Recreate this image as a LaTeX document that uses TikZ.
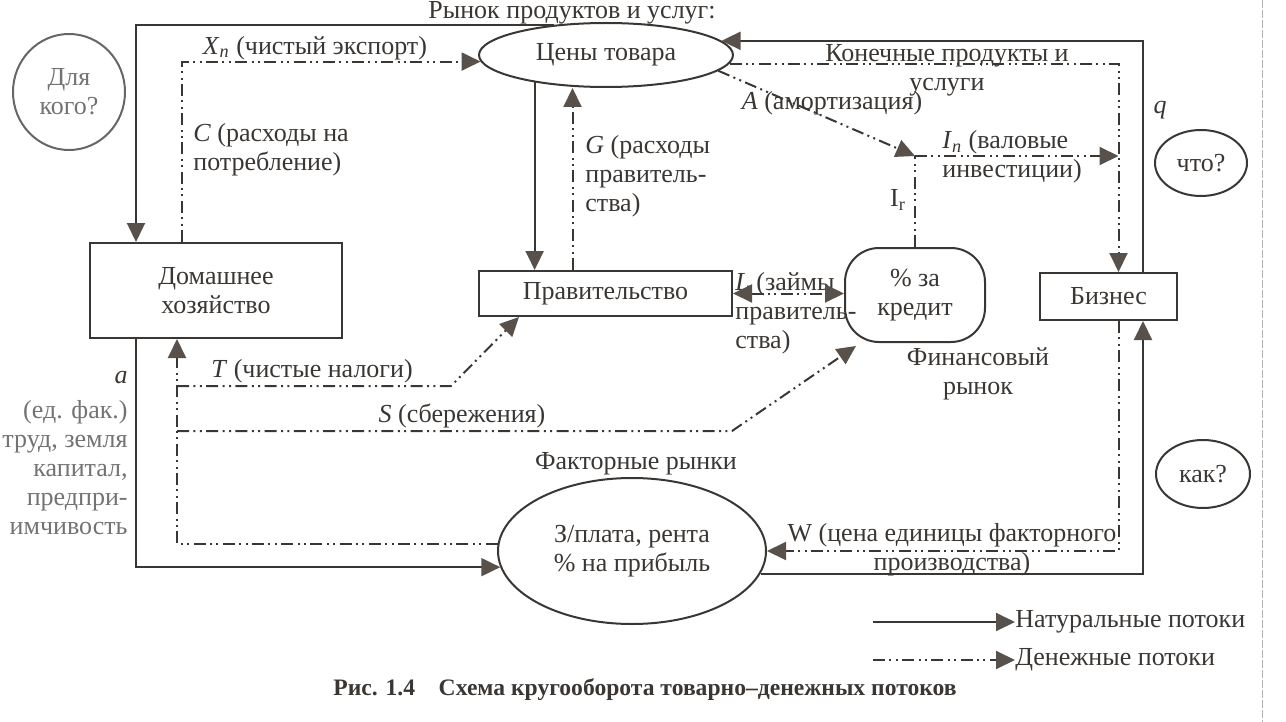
\documentclass[tikz,border=0pt]{standalone}
\usepackage{fontspec}
\setmainfont{Liberation Serif}
\usetikzlibrary{arrows.meta,shapes.geometric,calc}
\definecolor{ink}{HTML}{3A3633}
\definecolor{tipc}{HTML}{58514B}
\begin{document}
\begin{tikzpicture}[x=0.5pt,y=-0.5pt,
  font=\fontsize{13}{14.5}\selectfont, text=ink,
  every node/.style={inner sep=0pt},
  natural/.style={draw=ink, line width=1pt},
  money/.style={draw=ink, line width=1pt, dash pattern=on 6pt off 2.2pt on 1pt off 2.2pt on 1pt off 2.2pt},
  ar/.style={-{Triangle[length=9.5pt,width=9pt,color=tipc]}},
  artwo/.style={{Triangle[length=9.5pt,width=9pt,color=tipc]}-{Triangle[length=9.5pt,width=9pt,color=tipc]}},
  box/.style={draw=ink, line width=1pt, align=center},
  oval/.style={ellipse, draw=ink, line width=1pt, align=center}]
\useasboundingbox (0,0) rectangle (1286,722);

% page edge artefact
\draw[black!30, line width=0.5pt, dash pattern=on 4pt off 1pt] (1262,0) -- (1262,722);

% title
\node[anchor=base] (title) at (572,19) {Рынок продуктов и услуг:};

% main nodes
\node[oval, minimum width=127pt, minimum height=32pt] (ce) at (606,55) {Цены товара};
\node[box, minimum width=126pt, minimum height=47.5pt] (hh) at (216,290.5) {Домашнее\\хозяйство};
\node[box, minimum width=126.5pt, minimum height=22.5pt] (gov) at (605.5,293.5) {Правительство};
\node[box, minimum width=68.5pt, minimum height=23.5pt] (biz) at (1108.5,296.5) {Бизнес};
\node[draw=ink, line width=1pt, rounded corners=17pt, minimum width=70pt, minimum height=47pt, align=center] (kr) at (915,295) {\% за\\кредит};
\node[oval, minimum width=134pt, minimum height=73pt] (fm) at (632,551) {З/плата, рента\\\% на прибыль};
\node[oval, draw=black!60, minimum width=56pt, minimum height=58pt, text=black!55] (who) at (69,92) {Для\\кого?};
\node[oval, minimum width=46pt, minimum height=33pt] (what) at (1201,163) {что?};
\node[oval, minimum width=47pt, minimum height=34pt] (how) at (1203,474) {как?};

% labels
\node (xn) at (315,48) {\textit{X}\textsubscript{\textit{n}} (чистый экспорт)};
\node[align=left, anchor=west] (cl) at (193,150) {\textit{C} (расходы на\\потребление)};
\node[align=left, anchor=west] (gl) at (585,176) {\textit{G} (расходы\\правитель-\\ства)};
\node (al) at (832,103) {\textit{A} (амортизация)};
\node[align=center] (kp) at (947,70) {Конечные продукты и\\услуги};
\node (ql) at (1160,110) {\textit{q}};
\node[align=left, anchor=west] (inl) at (942,157) {\textit{I}\textsubscript{\textit{n}} (валовые\\инвестиции)};
\node (irl) at (898,200) {I\textsubscript{r}};
\node[align=left, anchor=west] (ll) at (735,313) {\textit{L} (займы\\правитель-\\ства)};
\node (tl) at (312,371) {\textit{T} (чистые налоги)};
\node (sl) at (462,416) {\textit{S} (сбережения)};
\node (frl) at (636,464) {Факторные рынки};
\node[align=center] (wl) at (952,550) {W (цена единицы факторного\\производства)};
\node[align=center] (finl) at (978,374) {Финансовый\\рынок};
\node (la) at (121,378) {\textit{a}};
\node[align=right, anchor=east, text=black!55] (lb) at (128,468) {(ед. фак.)\\труд, земля\\капитал,\\предпри-\\имчивость};

% top-left loop
\draw[natural,ar] (ce.150) -| ($(hh.north west)+(47,0)$);
\draw[money,ar] ($(hh.north west)+(93,0)$) |- (ce.183);

% government <-> goods market
\draw[natural,ar] (ce.201) -- (ce.201 |- gov.north);
\draw[money,ar] ($(gov.north)+(-33,0)$) coordinate (g0) -- (g0 |- ce.south);

% business <-> goods market
\draw[natural,ar] ($(biz.north east)+(-35,0)$) |- (ce.7);
\draw[money,ar] (ce.-4) -| ($(biz.north)+(10,0)$);

% investment
\coordinate (jn) at ($(kr.north)+(0,-91)$);
\coordinate (bj) at ($(jn -| biz.north)+(10,0)$);
\draw[money,ar] (ce.-8) -- (jn);
\draw[money,ar] (jn) -- (bj);
\draw[money] (kr.north) -- (jn);

% loans
\draw[money,artwo] (gov.east) -- (gov.east -| kr.west);

% taxes and savings
\coordinate (t0) at ($(hh.south west)+(88,47)$);
\coordinate (t1) at ($(t0)+(274,0)$);
\draw[money,ar] (t0) -- (t1) -- ($(gov.south west)+(41,0)$);
\coordinate (s0) at ($(hh.south west)+(88,92)$);
\coordinate (s1) at ($(s0)+(555,0)$);
\draw[money,ar] (s0) -- (s1) -- ($(kr.south west)+(12,3)$);

% factor markets
\draw[money,ar] (fm.177) -| ($(hh.south west)+(88,0)$);
\draw[natural,ar] ($(hh.south west)+(47,0)$) |- (fm.187);
\draw[money,ar] ($(biz.south)+(10,0)$) |- (fm.east);
\draw[natural,ar] (fm.-10) -| ($(biz.south east)+(-35,0)$);

% legend
\node[anchor=west] (ln) at (1015,622) {Натуральные потоки};
\node[anchor=west] (lm) at (1015,660) {Денежные потоки};
\coordinate (lns) at (873,622);
\coordinate (lms) at (873,660);
\draw[natural,ar] (lns) -- (ln.west);
\draw[money,ar] (lms) -- (lm.west);

% caption
\node[font=\bfseries\fontsize{11.8}{13}\selectfont] (cap) at (645,690) {Рис. 1.4\quad Схема кругооборота товарно–денежных потоков};
\end{tikzpicture}
\end{document}
